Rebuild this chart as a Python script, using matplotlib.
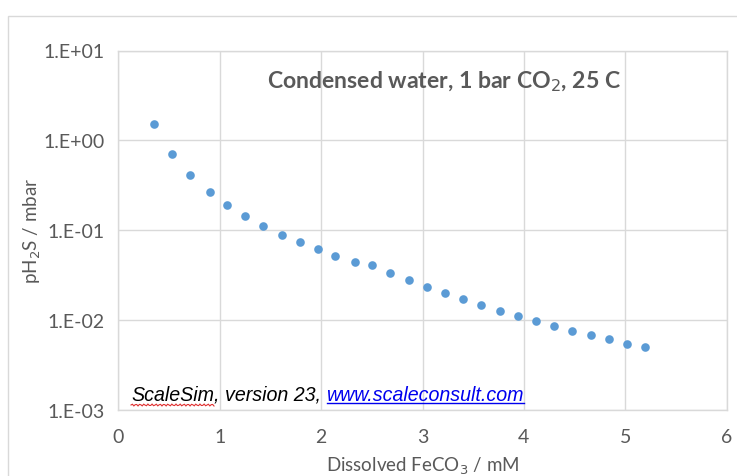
import numpy as np
import matplotlib.pyplot as plt
from matplotlib.patches import Rectangle

# dissolved FeCO3 (mM) and pH2S (mbar)
feco3 = [0.35, 0.53, 0.71, 0.90, 1.07, 1.25, 1.43, 1.61, 1.79, 1.97,
         2.14, 2.33, 2.50, 2.68, 2.87, 3.04, 3.22, 3.40, 3.58, 3.76,
         3.94, 4.12, 4.30, 4.48, 4.66, 4.84, 5.02, 5.20]
ph2s = [1.51, 0.706, 0.412, 0.267, 0.191, 0.144, 0.111, 0.0892, 0.0739, 0.0612,
        0.0520, 0.0446, 0.0413, 0.0336, 0.0281, 0.0233, 0.0198, 0.0170, 0.0147, 0.0126,
        0.0111, 0.00966, 0.00850, 0.00760, 0.00680, 0.00609, 0.00545, 0.00496]
xticks = [0, 1, 2, 3, 4, 5, 6]
yticks = [1e-3, 1e-2, 1e-1, 1e0, 1e1]
ytick_labels = ["1.E-03", "1.E-02", "1.E-01", "1.E+00", "1.E+01"]

grey = "#595959"
gridc = "#d9d9d9"
plt.rcParams['font.family'] = ['Lato', 'DejaVu Sans']

fig = plt.figure(figsize=(7.37, 4.77), dpi=100)
# chart area border
fig.patches.append(Rectangle((8/737, -0.05), 1.0, (477-17)/477 + 0.05,
                             transform=fig.transFigure, fill=False,
                             edgecolor=gridc, linewidth=1.0))
ax = fig.add_axes([118.5/737, 1-411/477, (726.5-118.5)/737, (411-51.5)/477])

ax.plot(feco3, ph2s, linestyle='none', marker='o', markersize=6.2,
        color="#5b9bd5", markeredgewidth=0, zorder=3)

ax.set_yscale('log')
ax.set_xlim(0, 6)
ax.set_ylim(1e-3, 1e1)
ax.set_xticks(xticks)
ax.set_yticks(yticks)
ax.set_yticklabels(ytick_labels)
ax.minorticks_off()
ax.tick_params(length=0, labelsize=14, labelcolor=grey)
ax.tick_params(axis='x', pad=13)
ax.tick_params(axis='y', pad=10)
ax.grid(True, color=gridc, linewidth=1.0)
for s in ax.spines.values():
    s.set_color(gridc)
    s.set_linewidth(1.0)

ax.set_xlabel("Dissolved FeCO$_3$ / mM", fontsize=13.5, color=grey, labelpad=7)
ax.set_ylabel("pH$_2$S / mbar", fontsize=13.5, color=grey, labelpad=0)

fig.text(444/737, 1-82/477, "Condensed water, 1 bar CO$_2$, 25 C",
         fontsize=16.6, fontweight='bold', color=grey, ha='center', va='center')

# watermark, built piece by piece
fig.canvas.draw()
r = fig.canvas.get_renderer()
x0 = 131/737
yb = 1-401/477
parts = [("ScaleSim", "black"), (", version 23, ", "black"), ("www.scaleconsult.com", "#0000ee")]
ext = []
for txt, c in parts:
    t = fig.text(x0, yb, txt, fontsize=14.1, style='italic', family='Liberation Sans',
                 color=c, ha='left', va='baseline')
    bb = t.get_window_extent(r).transformed(fig.transFigure.inverted())
    ext.append((bb.x0, bb.x1))
    x0 = bb.x1
# underline of the link
ux0, ux1 = ext[2]
fig.add_artist(plt.Line2D([ux0, ux1], [yb - 3/477, yb - 3/477], transform=fig.transFigure,
                          color="#0000ee", linewidth=1.0))
# red spell-check squiggle under ScaleSim
sx0, sx1 = ext[0]
wx = np.linspace(sx0, sx1, 60)
wy = yb - 5/477 + 1/477 * np.sin((wx - sx0) * 737 * np.pi / 2)
fig.add_artist(plt.Line2D(wx, wy, transform=fig.transFigure, color="#e03030", linewidth=0.8))

fig.savefig("out.png", dpi=100)
